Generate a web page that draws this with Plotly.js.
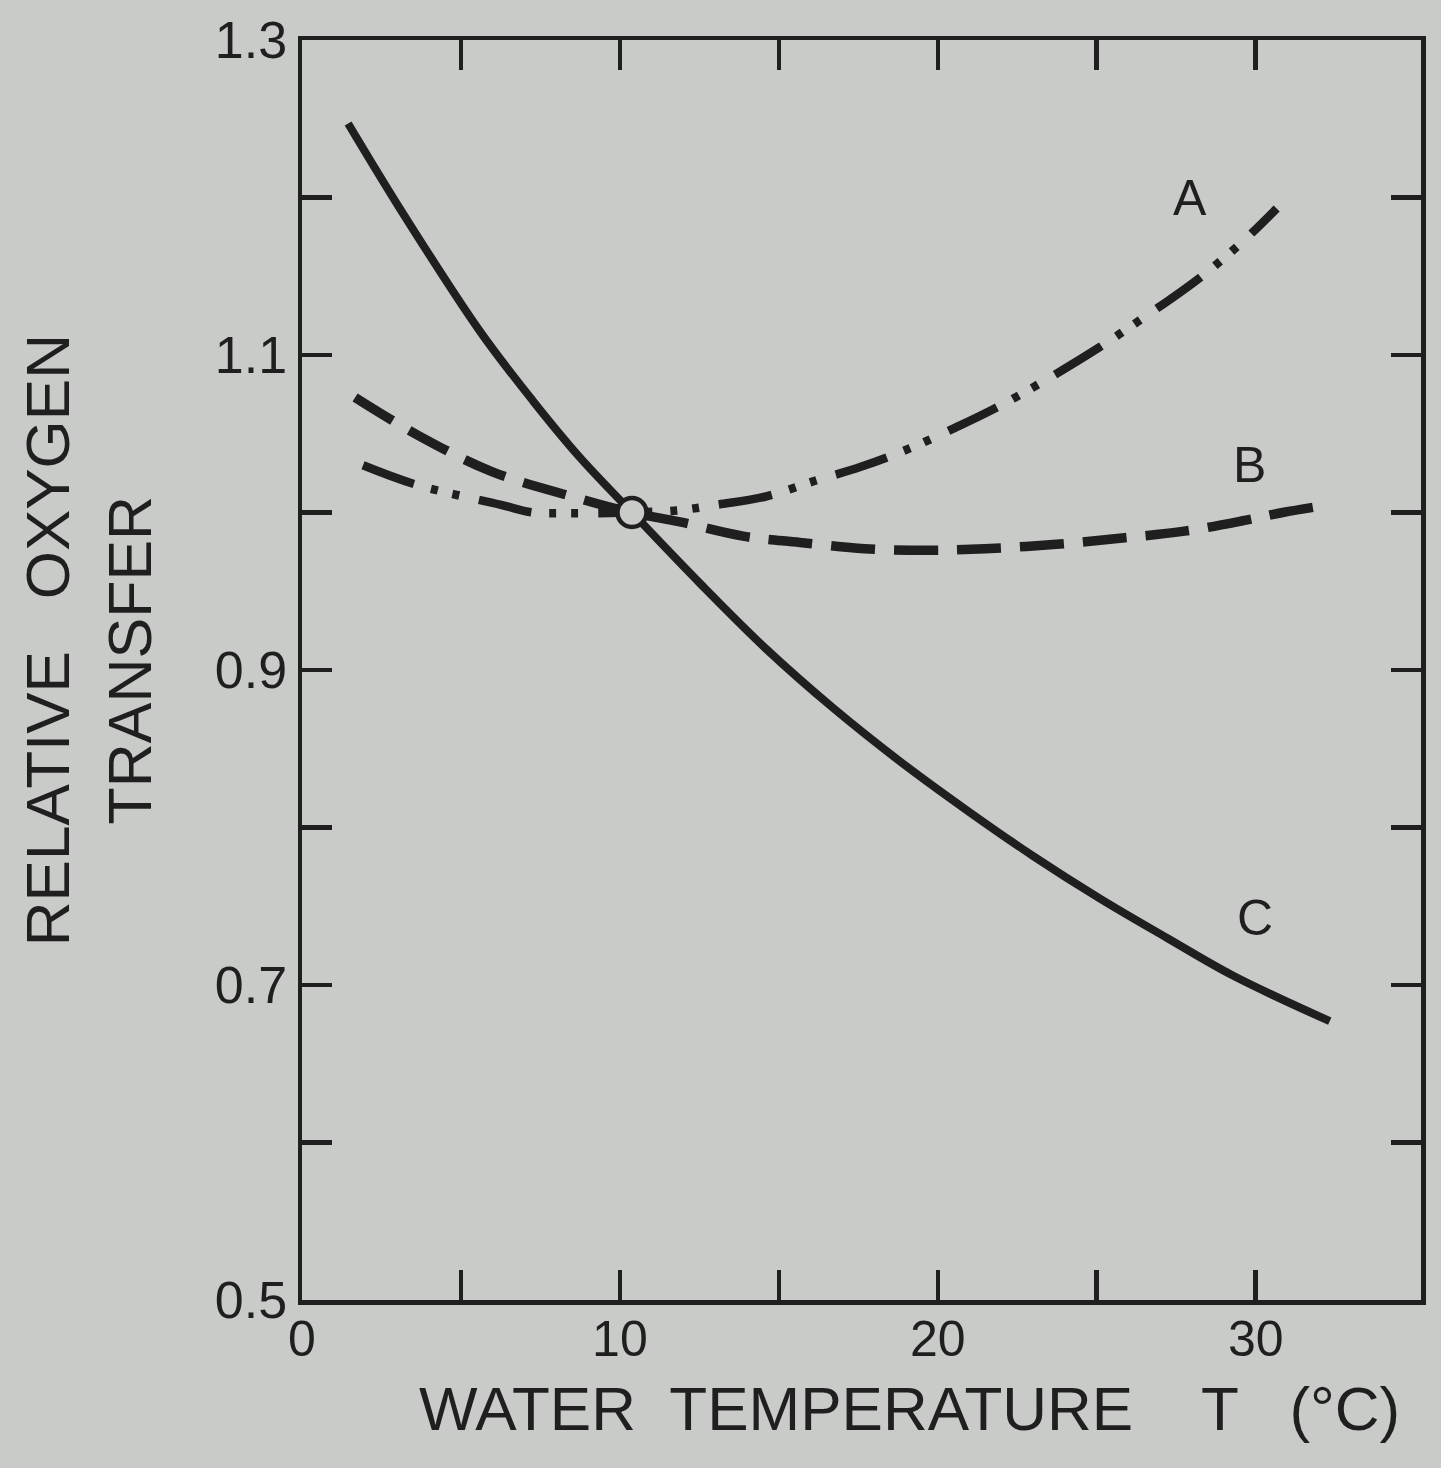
<!DOCTYPE html>
<html>
<head>
<meta charset="utf-8">
<script src="https://cdn.plot.ly/plotly-3.0.1.min.js"></script>
<style>html,body{margin:0;padding:0;background:#c9cbc9;}</style>
</head>
<body>
<div id="chart" style="width:1441px;height:1468px;"></div>
<script>
// Curve A (dash-dot-dot)
const tempA = [1.92, 3.62, 6.23, 7.26, 8.05, 10.38, 11.89, 13.08, 14.56, 16.19, 17.58, 19.21, 20.57, 21.79, 23.30, 25.09, 26.35, 28.24, 29.59, 30.66];
const valA  = [1.030, 1.0175, 1.005, 1.000, 0.9995, 1.000, 1.0015, 1.005, 1.010, 1.0205, 1.029, 1.0415, 1.054, 1.066, 1.083, 1.105, 1.122, 1.149, 1.172, 1.193];
// Curve B (dashed)
const tempB = [1.67, 3.65, 5.97, 8.52, 10.38, 11.89, 13.87, 15.66, 17.70, 19.69, 21.48, 23.84, 25.88, 27.70, 29.65, 30.85, 32.33];
const valB  = [1.073, 1.049, 1.026, 1.010, 1.000, 0.994, 0.985, 0.981, 0.977, 0.976, 0.977, 0.980, 0.984, 0.988, 0.995, 1.000, 1.005];
// Curve C (solid)
const tempC = [1.45, 3.08, 5.60, 7.26, 8.74, 10.38, 12.52, 14.62, 16.70, 18.81, 20.91, 22.99, 25.09, 27.20, 29.28, 32.33];
const valC  = [1.247, 1.193, 1.115, 1.071, 1.035, 1.000, 0.955, 0.913, 0.876, 0.842, 0.811, 0.782, 0.755, 0.730, 0.706, 0.677];
// Reference point (open circle)
const refT = [10.38];
const refV = [1.000];
// Curve labels
const labelText = ["A", "B", "C"];
const labelT = [27.92, 29.81, 29.97];
const labelV = [1.200, 1.030, 0.7425];
// Axis ticks
const xTickVals = [0, 10, 20, 30];
const xMinorVals = [5, 15, 25];
const yTickVals = [0.5, 0.7, 0.9, 1.1, 1.3];
const yTickText = ["0.5", "0.7", "0.9", "1.1", "1.3"];
const yMinorVals = [0.6, 0.8, 1.0, 1.2];
// Titles
const xTitle = "WATER  TEMPERATURE    T   (°C)";
const yTitleLine1 = "RELATIVE   OXYGEN";
const yTitleLine2 = "TRANSFER";

const ink = "#1f1f1f";
const bg = "#c9cbc9";
const font = "Liberation Sans, Arial, sans-serif";

const traces = [
  {x: tempC, y: valC, mode: "lines", line: {color: ink, width: 8, shape: "spline"}, hoverinfo: "skip"},
  {x: tempB, y: valB, mode: "lines", line: {color: ink, width: 9.5, shape: "spline", dash: "44px,19px"}, hoverinfo: "skip"},
  {x: tempA, y: valA, mode: "lines", line: {color: ink, width: 8.5, shape: "spline", dash: "54px,18px,7px,15px,7px,20px"}, hoverinfo: "skip"},
  {x: refT, y: refV, mode: "markers", marker: {size: 29, color: bg, line: {color: ink, width: 4.5}}, hoverinfo: "skip"}
];

const annotations = labelText.map((t, i) => ({
  x: labelT[i], y: labelV[i], xref: "x", yref: "y", text: t, showarrow: false,
  font: {family: font, size: 50, color: ink}
}));
annotations.push(
  {xref: "paper", yref: "paper", x: 0.5425, y: -0.0865, xanchor: "center", yanchor: "middle",
   text: xTitle, showarrow: false, font: {family: font, size: 62, color: ink}},
  {xref: "paper", yref: "paper", x: -0.2275, y: 0.524, xanchor: "center", yanchor: "middle", textangle: -90,
   text: yTitleLine1, showarrow: false, font: {family: font, size: 62, color: ink}},
  {xref: "paper", yref: "paper", x: -0.154, y: 0.508, xanchor: "center", yanchor: "middle", textangle: -90,
   text: yTitleLine2, showarrow: false, font: {family: font, size: 61, color: ink}}
);

const layout = {
  width: 1441, height: 1468,
  paper_bgcolor: bg, plot_bgcolor: bg,
  showlegend: false,
  margin: {l: 302, r: 20, t: 40, b: 168},
  font: {family: font, color: ink},
  xaxis: {
    range: [0, 35.2], tickvals: xTickVals, ticktext: xTickVals.map(String),
    ticks: "inside", ticklen: 30, tickwidth: 4.5, tickcolor: ink,
    minor: {tickvals: xMinorVals, ticks: "inside", ticklen: 30, tickwidth: 4.5, tickcolor: ink},
    showline: true, linewidth: 4.5, linecolor: ink, mirror: "ticks",
    showgrid: false, zeroline: false, ticklabelstandoff: -9,
    tickfont: {family: font, size: 50, color: ink}
  },
  yaxis: {
    range: [0.5, 1.3], tickvals: yTickVals, ticktext: yTickText,
    ticks: "inside", ticklen: 30, tickwidth: 4.5, tickcolor: ink,
    minor: {tickvals: yMinorVals, ticks: "inside", ticklen: 30, tickwidth: 4.5, tickcolor: ink},
    showline: true, linewidth: 4.5, linecolor: ink, mirror: "ticks",
    showgrid: false, zeroline: false,
    tickfont: {family: font, size: 52, color: ink}
  },
  annotations: annotations
};

Plotly.newPlot("chart", traces, layout, {staticPlot: true, displayModeBar: false});
</script>
</body>
</html>
